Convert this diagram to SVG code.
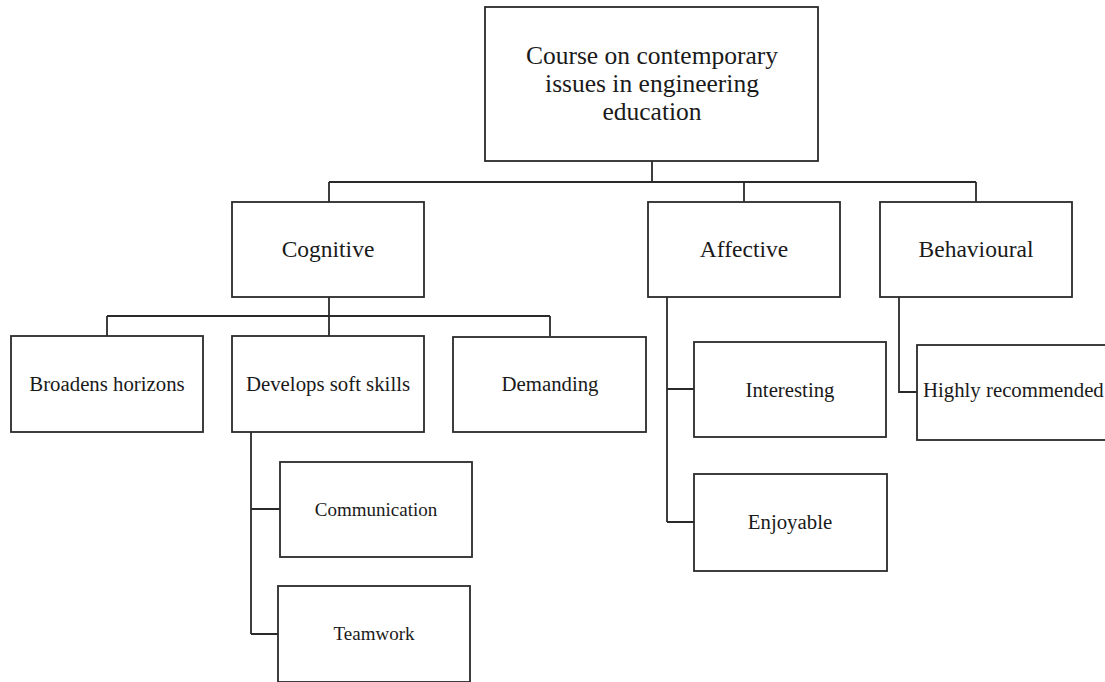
<svg xmlns="http://www.w3.org/2000/svg" width="1105" height="682" viewBox="0 0 1105 682">
<style>
.box{fill:#fff;stroke:#2a2a2a;stroke-width:1.8}
.ln{fill:none;stroke:#2a2a2a;stroke-width:1.8}
text{font-family:"Liberation Serif","Times New Roman",serif;fill:#1a1a1a;text-anchor:middle}
.t0{font-size:25.5px}
.t1{font-size:23.5px}
.t2{font-size:20.8px}
.t3{font-size:19px}
</style>
<rect width="1105" height="682" fill="#fff"/>
<g id="connectors">
<path class="ln" d="M652 161V182M329 182H976M329 182V202M744 182V202M976 182V202"/>
<path class="ln" d="M329 297V316M107 316H550M107 316V336M329 316V336M550 316V336"/>
<path class="ln" d="M251 432V634M251 509H280M251 634H278"/>
<path class="ln" d="M667 297V522M667 389H694M667 522H694"/>
<path class="ln" d="M899 297V392H917"/>
</g>
<g id="root"><rect class="box" x="485" y="7" width="333" height="154"/>
<text class="t0" x="652" y="64">Course on contemporary</text>
<text class="t0" x="652" y="92">issues in engineering</text>
<text class="t0" x="652" y="120">education</text></g>
<g id="cognitive"><rect class="box" x="232" y="202" width="192" height="95"/><text class="t1" x="328" y="257">Cognitive</text></g>
<g id="affective"><rect class="box" x="648" y="202" width="192" height="95"/><text class="t1" x="744" y="257">Affective</text></g>
<g id="behavioural"><rect class="box" x="880" y="202" width="192" height="95"/><text class="t1" x="976" y="257">Behavioural</text></g>
<g id="broadens"><rect class="box" x="11" y="336" width="192" height="96"/><text class="t2" x="107" y="391">Broadens horizons</text></g>
<g id="develops"><rect class="box" x="232" y="336" width="192" height="96"/><text class="t2" x="328" y="391">Develops soft skills</text></g>
<g id="demanding"><rect class="box" x="453" y="337" width="193" height="95"/><text class="t2" x="550" y="391">Demanding</text></g>
<g id="communication"><rect class="box" x="280" y="462" width="192" height="95"/><text class="t3" x="376" y="516">Communication</text></g>
<g id="teamwork"><rect class="box" x="278" y="586" width="192" height="96"/><text class="t3" x="374" y="640">Teamwork</text></g>
<g id="interesting"><rect class="box" x="694" y="342" width="192" height="95"/><text class="t2" x="790" y="397">Interesting</text></g>
<g id="enjoyable"><rect class="box" x="694" y="474" width="193" height="97"/><text class="t2" x="790" y="529">Enjoyable</text></g>
<g id="highly"><rect class="box" x="917" y="345" width="200" height="95"/><text class="t2" x="923" y="397" style="text-anchor:start">Highly recommended</text></g>
</svg>
